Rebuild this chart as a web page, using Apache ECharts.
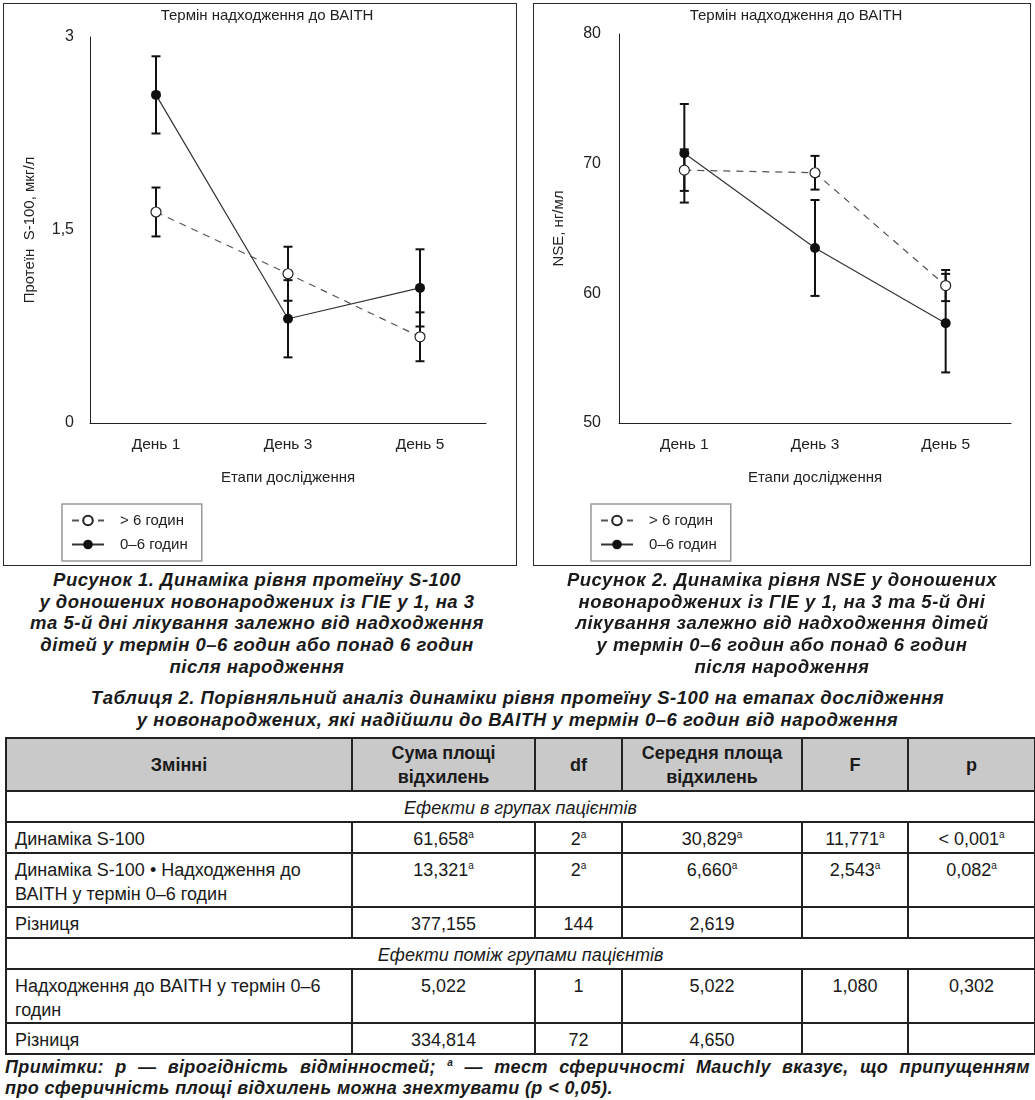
<!DOCTYPE html>
<html>
<head>
<meta charset="utf-8">
<script src="https://cdn.jsdelivr.net/npm/echarts@6/dist/echarts.min.js"></script>
<style>
html,body{margin:0;padding:0;background:#fff;}
body{width:1035px;height:1100px;position:relative;overflow:hidden;font-family:"Liberation Sans",Arial,sans-serif;color:#1a1a1a;}
.chart{position:absolute;top:3px;height:563px;}
.frame{position:absolute;top:3px;height:563px;border:1px solid #2a2a2a;box-sizing:border-box;pointer-events:none;}
.cap{position:absolute;text-align:center;font-weight:bold;font-style:italic;font-size:18.5px;letter-spacing:0.5px;line-height:21.7px;color:#1a1a1a;white-space:nowrap;}
#tbl{position:absolute;left:5px;top:737px;width:1029px;border-collapse:collapse;table-layout:fixed;font-size:18px;color:#1a1a1a;}
#tbl td,#tbl th{border:2px solid #222;padding:4px 8px 0 8px;line-height:24px;vertical-align:top;box-sizing:border-box;}
#tbl th{background:#c9c9c9;font-weight:bold;vertical-align:middle;text-align:center;padding:0 4px;}
#tbl td.num{text-align:center;}
#tbl td.sec{text-align:center;font-style:italic;}
#tbl sup{font-size:10px;line-height:0;vertical-align:7px;}
.note{position:absolute;left:5px;width:1025px;font-weight:bold;font-style:italic;font-size:18px;letter-spacing:0.4px;line-height:21px;white-space:nowrap;}
.note sup{font-size:10px;line-height:0;vertical-align:7px;}
</style>
</head>
<body>
<div id="c1" class="chart" style="left:3px;width:514px;"></div>
<div class="frame" style="left:3px;width:514px;"></div>
<div id="c2" class="chart" style="left:533px;width:498px;"></div>
<div class="frame" style="left:533px;width:498px;"></div>

<div class="cap" style="left:0;width:514px;top:569px;">Рисунок 1. Динаміка рівня протеїну S-100<br>у доношених новонароджених із ГІЕ у 1, на 3<br>та 5-й дні лікування залежно від надходження<br>дітей у термін 0–6 годин або понад 6 годин<br>після народження</div>
<div class="cap" style="left:533px;width:498px;top:569px;">Рисунок 2. Динаміка рівня NSE у доношених<br>новонароджених із ГІЕ у 1, на 3 та 5-й дні<br>лікування залежно від надходження дітей<br>у термін 0–6 годин або понад 6 годин<br>після народження</div>
<div class="cap" style="left:0;width:1035px;top:687px;">Таблиця 2. Порівняльний аналіз динаміки рівня протеїну S-100 на етапах дослідження<br>у новонароджених, які надійшли до ВАІТН у термін 0–6 годин від народження</div>

<table id="tbl"></table>

<div class="note" style="top:1057px;text-align:justify;text-align-last:justify;white-space:normal;">Примітки: p — вірогідність відмінностей; <sup>a</sup> — тест сферичності Mauchly вказує, що припущенням</div>
<div class="note" style="top:1078px;">про сферичність площі відхилень можна знехтувати (p &lt; 0,05).</div>

<script>
// ---------- chart data ----------
const categories = ['День 1', 'День 3', 'День 5'];
const seriesNames = ['> 6 годин', '0–6 годин'];

// Figure 1: S-100 protein, мкг/л
const s100Late = [1.64, 1.16, 0.67];
const s100LateErr = [0.19, 0.21, 0.19];
const s100Early = [2.55, 0.81, 1.05];
const s100EarlyErr = [0.30, 0.30, 0.30];
const s100Ticks = [0, 1.5, 3];

// Figure 2: NSE, нг/мл
const nseLate = [69.5, 69.3, 60.6];
const nseLateErr = [1.6, 1.3, 1.2];
const nseEarly = [70.8, 63.5, 57.7];
const nseEarlyErr = [3.8, 3.7, 3.8];
const nseTicks = [50, 60, 70, 80];

// ---------- table data ----------
const tableHeader = ['Змінні', 'Сума площі<br>відхилень', 'df', 'Середня площа<br>відхилень', 'F', 'p'];
const colWidths = [346, 183, 87, 180, 106, 127];
const rowHeights = [53, 31, 31, 52, 31, 31, 53, 31];
const tableRows = [
  ['Ефекти в групах пацієнтів'],
  ['Динаміка S-100', '61,658^a', '2^a', '30,829^a', '11,771^a', '< 0,001^a'],
  ['Динаміка S-100 • Надходження до<br>ВАІТН у термін 0–6 годин', '13,321^a', '2^a', '6,660^a', '2,543^a', '0,082^a'],
  ['Різниця', '377,155', '144', '2,619', '', ''],
  ['Ефекти поміж групами пацієнтів'],
  ['Надходження до ВАІТН у термін 0–6<br>годин', '5,022', '1', '5,022', '1,080', '0,302'],
  ['Різниця', '334,814', '72', '4,650', '', '']
];

(function buildTable(){
  const t = document.getElementById('tbl');
  let html = '<colgroup>' + colWidths.map(w => '<col style="width:' + w + 'px">').join('') + '</colgroup>';
  html += '<tr style="height:' + rowHeights[0] + 'px">' + tableHeader.map(h => '<th>' + h + '</th>').join('') + '</tr>';
  const fmt = s => s.replace(/</g, '&lt;').replace(/&lt;br>/g, '<br>').replace(/\^a/g, '<sup>a</sup>');
  tableRows.forEach((r, i) => {
    const h = rowHeights[i + 1];
    if (r.length === 1) {
      html += '<tr style="height:' + h + 'px"><td class="sec" colspan="6">' + r[0] + '</td></tr>';
    } else {
      html += '<tr style="height:' + h + 'px">' + r.map((c, j) => '<td' + (j ? ' class="num"' : '') + '>' + fmt(c) + '</td>').join('') + '</tr>';
    }
  });
  t.innerHTML = html;
})();

// ---------- charts ----------
const FONT = '"Liberation Sans", Arial, sans-serif';
const TXT = '#222';

function errData(means, errs) {
  return means.map((m, i) => [i, +(m - errs[i]).toFixed(3), +(m + errs[i]).toFixed(3)]);
}
function renderErr(params, api) {
  const x = api.value(0);
  const lo = api.coord([x, api.value(1)]);
  const hi = api.coord([x, api.value(2)]);
  const w = 4.5;
  const st = { stroke: '#111', lineWidth: 2 };
  return {
    type: 'group',
    children: [
      { type: 'line', shape: { x1: hi[0], y1: hi[1], x2: lo[0], y2: lo[1] }, style: st },
      { type: 'line', shape: { x1: hi[0] - w, y1: hi[1], x2: hi[0] + w, y2: hi[1] }, style: st },
      { type: 'line', shape: { x1: lo[0] - w, y1: lo[1], x2: lo[0] + w, y2: lo[1] }, style: st }
    ]
  };
}

function makeOption(cfg) {
  const ticks = cfg.ticks;
  return {
    animation: false,
    title: {
      text: 'Термін надходження до ВАІТН',
      left: cfg.titleX, top: 5, padding: 0, textAlign: 'center',
      textStyle: { fontSize: 15, fontWeight: 'normal', color: TXT, fontFamily: FONT }
    },
    legend: {
      data: seriesNames,
      orient: 'vertical',
      left: cfg.legendX, top: 501,
      itemWidth: 32, itemHeight: 12, itemGap: 9,
      padding: [9, 14, 9, 9],
      borderColor: '#999', borderWidth: 1.5,
      textStyle: { fontSize: 15, color: TXT, fontFamily: FONT, padding: [0, 0, 0, 11] }
    },
    grid: { left: cfg.gridLeft, top: cfg.gridTop, width: cfg.gridWidth, height: cfg.gridHeight },
    xAxis: {
      type: 'category', data: categories, boundaryGap: true,
      axisLine: { lineStyle: { color: '#222', width: 1 } },
      axisTick: { show: false },
      axisLabel: { fontSize: 15.5, color: TXT, margin: 14, fontFamily: FONT },
      name: 'Етапи дослідження', nameLocation: 'middle', nameGap: 47,
      nameTextStyle: { fontSize: 15, color: TXT, fontFamily: FONT }
    },
    yAxis: {
      type: 'value',
      min: ticks[0], max: ticks[ticks.length - 1], interval: ticks[1] - ticks[0],
      axisLine: { show: true, lineStyle: { color: '#222', width: 1 } },
      axisTick: { show: false },
      splitLine: { show: false },
      axisLabel: { fontSize: 16, color: TXT, margin: cfg.labelMargin, fontFamily: FONT,
        formatter: v => String(v).replace('.', ',') },
      name: cfg.yName, nameLocation: 'middle', nameGap: 53,
      nameTextStyle: { fontSize: 15, color: TXT, fontFamily: FONT }
    },
    series: [
      { type: 'custom', name: 'err1', renderItem: renderErr, data: errData(cfg.late, cfg.lateErr),
        encode: { x: 0, y: [1, 2] }, z: 1, silent: true },
      { type: 'custom', name: 'err2', renderItem: renderErr, data: errData(cfg.early, cfg.earlyErr),
        encode: { x: 0, y: [1, 2] }, z: 1, silent: true },
      { type: 'line', name: seriesNames[0], data: cfg.late, symbol: 'circle', symbolSize: 10, z: 3,
        lineStyle: { color: '#555', width: 1.2, type: [7, 6] },
        itemStyle: { color: '#fff', borderColor: '#222', borderWidth: 1.2 } },
      { type: 'line', name: seriesNames[1], data: cfg.early, symbol: 'circle', symbolSize: 10, z: 3,
        lineStyle: { color: '#333', width: 1.2 },
        itemStyle: { color: '#111' } }
    ]
  };
}

const chart1 = echarts.init(document.getElementById('c1'), null, { renderer: 'canvas' });
chart1.setOption(makeOption({
  titleX: 264, legendX: 59, gridLeft: 87, gridTop: 34, gridWidth: 396, gridHeight: 386,
  labelMargin: 16, yName: 'Протеїн  S-100, мкг/л', ticks: s100Ticks,
  late: s100Late, lateErr: s100LateErr, early: s100Early, earlyErr: s100EarlyErr
}));

const chart2 = echarts.init(document.getElementById('c2'), null, { renderer: 'canvas' });
chart2.setOption(makeOption({
  titleX: 263, legendX: 58, gridLeft: 86, gridTop: 31, gridWidth: 392, gridHeight: 389,
  labelMargin: 18, yName: 'NSE, нг/мл', ticks: nseTicks,
  late: nseLate, lateErr: nseLateErr, early: nseEarly, earlyErr: nseEarlyErr
}));
</script>
</body>
</html>
